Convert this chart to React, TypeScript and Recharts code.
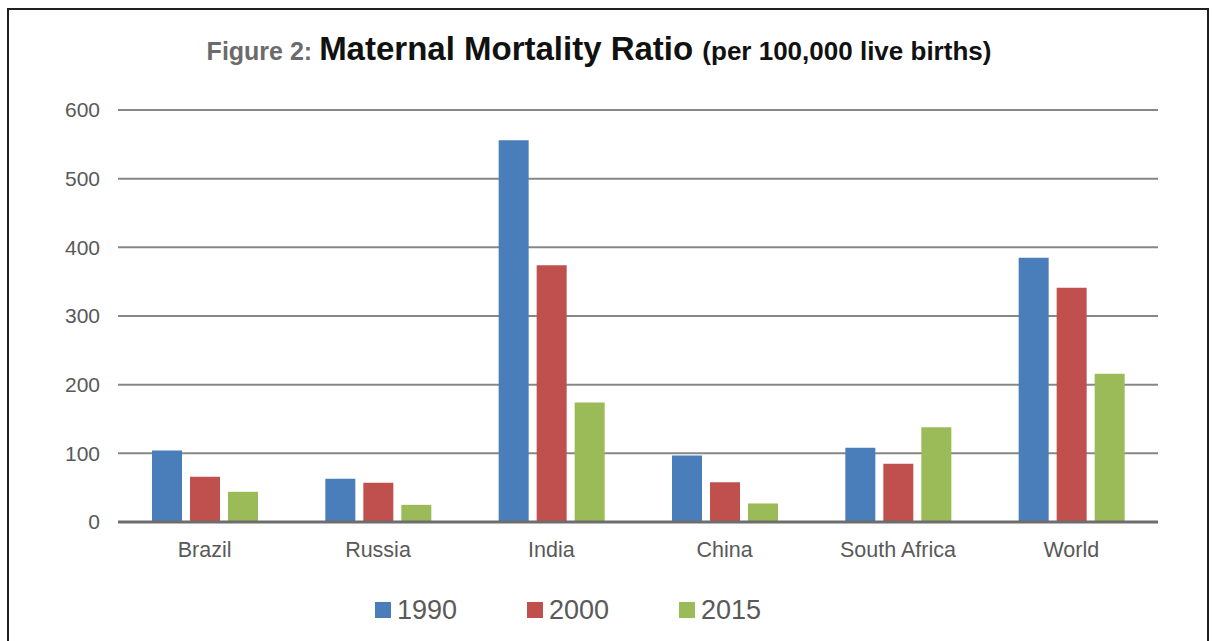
import React from "react";
import { BarChart, Bar, XAxis, YAxis, CartesianGrid, Legend } from "recharts";

const categories = ["Brazil", "Russia", "India", "China", "South Africa", "World"];
const values1990 = [104, 63, 556, 97, 108, 385];
const values2000 = [66, 57, 374, 58, 85, 341];
const values2015 = [44, 25, 174, 27, 138, 216];
const yTicks = [0, 100, 200, 300, 400, 500, 600];
const seriesNames = ["1990", "2000", "2015"];
const colors = ["#4A7EBB", "#C0504D", "#9BBB59"];

const data = categories.map((c, i) => ({
  name: c,
  "1990": values1990[i],
  "2000": values2000[i],
  "2015": values2015[i],
}));

const FONT = "'Liberation Sans', Arial, sans-serif";

const renderLegend = (props: any) => {
  const { payload } = props;
  return (
    <div style={{ display: "flex", justifyContent: "flex-start", paddingLeft: 375, fontFamily: FONT, height: 28 }}>
      {payload.map((p: any, i: number) => (
        <div key={i} style={{ display: "flex", alignItems: "center", width: i < payload.length - 1 ? 152 : undefined }}>
          <span style={{ display: "inline-block", width: 16, height: 16, background: p.color, marginRight: 6 }} />
          <span style={{ fontSize: 27, color: "#595959", lineHeight: "28px" }}>{p.value}</span>
        </div>
      ))}
    </div>
  );
};

export default function App() {
  return (
    <div style={{ position: "absolute", left: 0, top: 0, width: 1212, height: 641, background: "#fff", overflow: "hidden" }}>
      <div style={{ position: "absolute", left: 7, top: 8, width: 1202, height: 700, border: "2px solid #231f20", boxSizing: "border-box" }} />
      <div
        style={{
          position: "absolute",
          left: 0,
          top: 30,
          width: 1198,
          textAlign: "center",
          fontFamily: FONT,
          fontWeight: "bold",
          whiteSpace: "nowrap",
        }}
      >
        <span style={{ fontSize: 25, color: "#6b6b6b" }}>Figure 2: </span>
        <span style={{ fontSize: 33, color: "#111" }}>Maternal Mortality Ratio </span>
        <span style={{ fontSize: 26, color: "#111" }}>(per 100,000 live births)</span>
      </div>
      <div style={{ position: "absolute", left: 0, top: 0 }}>
        <BarChart
          width={1212}
          height={641}
          data={data}
          margin={{ top: 110, right: 54, bottom: 0, left: 58 }}
          barSize={30}
          barGap={8}
        >
          <CartesianGrid horizontal={true} vertical={false} stroke="#878787" strokeWidth={2} />
          <XAxis
            dataKey="name"
            tickLine={false}
            axisLine={{ stroke: "#6d6d6d", strokeWidth: 3 }}
            tick={{ fill: "#595959", fontSize: 21.5, fontFamily: FONT }}
            tickSize={0}
            tickMargin={20}
            height={91}
            interval={0}
          />
          <YAxis
            domain={[0, 600]}
            ticks={yTicks}
            tickLine={false}
            axisLine={false}
            tickSize={0}
            tickMargin={18}
            width={60}
            tick={{ fill: "#595959", fontSize: 21, fontFamily: FONT }}
          />
          <Legend
            verticalAlign="bottom"
            content={renderLegend}
            wrapperStyle={{ top: 596, left: 0, width: 1212 }}
          />
          {seriesNames.map((s, i) => (
            <Bar key={s} dataKey={s} fill={colors[i]} isAnimationActive={false} />
          ))}
        </BarChart>
      </div>
    </div>
  );
}
